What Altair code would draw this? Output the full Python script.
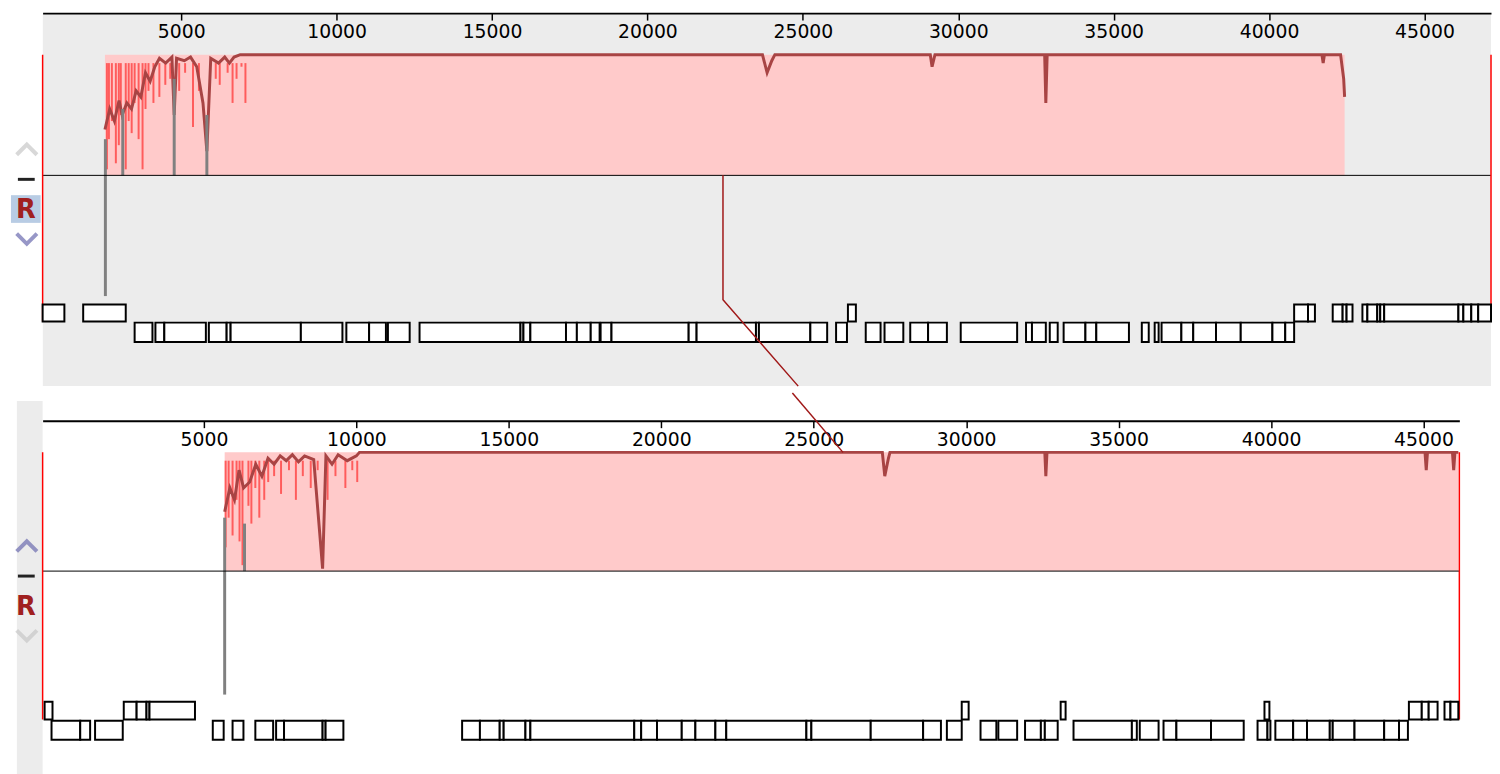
import altair as alt
import pandas as pd

# ---- data (bp positions) ----
ticks = [5000, 10000, 15000, 20000, 25000, 30000, 35000, 40000, 45000]

top_domain = [541, 47140]
bot_domain = [-292, 46176]

top_block = [2546, 42430]
bot_block = [5679, 46143]

top_prof_x = [2546, 2700, 2850, 3000, 3100, 3250, 3400, 3550, 3700, 3850, 4000, 4150, 4300, 4500,
              4700, 4774, 4850, 5100, 5300, 5500, 5700, 5825, 5950, 6200, 6400, 6550, 6700, 6900,
              23700, 23850, 24000, 24100, 29100, 29157, 29250, 32780, 32817, 32860, 41700, 41740,
              41780, 42300, 42400, 42430]
top_prof_y = [0.38, 0.55, 0.45, 0.62, 0.5, 0.6, 0.55, 0.7, 0.65, 0.85, 0.78, 0.9, 0.97, 0.93,
              0.98, 0.5, 0.97, 0.95, 0.98, 0.9, 0.6, 0.2, 0.97, 0.93, 0.98, 0.93, 0.98, 1.0,
              1.0, 0.85, 0.95, 1.0, 1.0, 0.9, 1.0, 1.0, 0.6, 1.0, 1.0, 0.93,
              1.0, 1.0, 0.8, 0.65]

bot_prof_x = [5679, 5850, 6000, 6150, 6300, 6500, 6700, 6900, 7100, 7300, 7500, 7700, 7900, 8100,
              8300, 8600, 8891, 9000, 9200, 9400, 9700, 10000, 10100, 27250, 27330, 27450, 27500,
              32580, 32613, 32650, 45050, 45090, 45130, 45950, 45990, 46030, 46143]
bot_prof_y = [0.5, 0.7, 0.6, 0.85, 0.7, 0.75, 0.9, 0.8, 0.95, 0.9, 0.97, 0.93, 0.98, 0.92,
              0.97, 0.94, 0.02, 0.97, 0.9, 0.98, 0.93, 0.97, 1.0, 1.0, 0.8, 0.95, 1.0,
              1.0, 0.8, 1.0, 1.0, 0.85, 1.0, 1.0, 0.85, 1.0, 1.0]

top_spike_x = [2610, 2674, 2769, 2897, 2992, 3056, 3215, 3310, 3406, 3501, 3629, 3756, 3851, 3947,
               4106, 4297, 4488, 4647, 4934, 5125, 5379, 5570, 6111, 6239, 6493, 6652, 6780, 6939, 7066]
top_spike_y = [0.05, 0.3, 0.45, 0.1, 0.25, 0.5, 0.05, 0.45, 0.35, 0.6, 0.3, 0.05, 0.55, 0.7,
               0.6, 0.65, 0.75, 0.8, 0.7, 0.85, 0.4, 0.7, 0.8, 0.75, 0.85, 0.6, 0.8, 0.9, 0.6]
bot_spike_x = [5711, 5809, 5938, 6068, 6166, 6263, 6458, 6555, 6685, 6815, 6977, 7107, 7301, 7528,
               7788, 8015, 8242, 8502, 8729, 9054, 9313, 9638, 9865, 10027]
bot_spike_y = [0.2, 0.45, 0.3, 0.6, 0.25, 0.05, 0.55, 0.4, 0.7, 0.45, 0.6, 0.75, 0.8, 0.65,
               0.85, 0.6, 0.8, 0.7, 0.85, 0.6, 0.8, 0.7, 0.85, 0.75]

top_gray = [(2560, 0.3, -1.0), (3119, 0.55, 0.0), (4774, 0.8, 0.0), (5825, 0.5, 0.0)]
bot_gray = [(5679, 0.45, -1.04), (6330, 0.4, 0.0)]

# gene chains: consecutive boundaries form adjacent boxes
top_row1 = [[541, 1241], [1846, 3215], [26450, 26706], [40806, 41252, 41475],
            [42047, 42366, 42493, 42684],
            [43003, 43162, 43480, 43576, 43703, 46091, 46250, 46505, 46728, 47140]]
top_row2 = [[3501, 4074], [4170, 4456, 5793], [5889, 6461, 6589, 8849, 10186], [10313, 11045, 11586],
            [11650, 12350], [12668, 15915, 16010, 16233, 17379, 17729, 18175, 18461],
            [18493, 18843, 21326, 21581, 23491, 23586, 25241, 25782], [26069, 26419],
            [27023, 27500], [27628, 28232], [28455, 29029, 29634], [30079, 31894],
            [32180, 32371, 32817], [32944, 33199], [33390, 34091, 34441, 35491], [35905, 36128],
            [36319, 36446], [36541, 37178, 37560, 38292, 39088, 40107, 40520, 40806]]
bot_row1 = [[-227, 32], [2369, 2791, 3115, 3213, 4705], [29854, 30081], [33099, 33261],
            [39784, 39946], [44521, 44943, 45170, 45462], [45689, 45884, 46143]]
bot_row2 = [[0, 941, 1266], [1428, 2336], [5289, 5646], [5938, 6295], [6685, 7269],
            [7366, 7626, 8891, 8989, 9573],
            [13467, 14051, 14700, 14830, 15544, 15706, 19113, 19340, 19859, 20671, 21118, 21774,
             22131, 24759, 24922, 26869, 28588, 29172],
            [29367, 29854], [30471, 30990], [31055, 31672], [31931, 32450, 32580, 33002],
            [33521, 35435, 35597], [35694, 36311], [36473, 36895, 38030, 39103],
            [39557, 39882, 39979],
            [40141, 40725, 41179, 41926, 42023, 42737, 43710, 44197, 44489]]

top_link_x = [22430, 22430, 24850]
top_link_y = [0.0, -1.03, -1.746]
bot_link_x = [24300, 25960]
bot_link_y = [1.5, 1.0]

PINK = "#ffcaca"
BRIGHT = "#ff5c5c"
DARK = "#a84444"
GRAY = "#808080"
PURPLE = "#6c6cb0"
LIGHT = "#c8c8c8"


def boxes(chains, y0, y1):
    rows = []
    for ch in chains:
        for a, b in zip(ch[:-1], ch[1:]):
            rows.append({"s": a, "e": b, "y0": y0, "y1": y1})
    return pd.DataFrame(rows)


def panel(domain, ydom, block, px, py, sx, sy, gray, row1, row2, r1y, r2y, lx, ly,
          width, height, axis_off, fill, strip_fill, is_ref, r_mid):
    xs = alt.Scale(domain=domain, nice=False, zero=False)
    ys = alt.Scale(domain=ydom, nice=False, zero=False)
    ax = alt.Axis(
        orient="bottom", offset=axis_off, values=ticks, title=None, format="d",
        labelFontSize=19, labelFont="DejaVu Sans", labelColor="black",
        tickColor="black", domainColor="black", tickSize=7, domainWidth=2, tickWidth=1.5,
        labelPadding=3, grid=False)
    X = lambda f: alt.X(f, scale=xs, axis=ax)
    Y = lambda f: alt.Y(f, scale=ys, axis=None)

    blk = alt.Chart(pd.DataFrame({"s": [block[0]], "e": [block[1]], "y0": [0], "y1": [1]})).mark_rect(
        color=PINK).encode(x=X("s:Q"), x2="e:Q", y=Y("y0:Q"), y2="y1:Q")

    spikes = alt.Chart(pd.DataFrame({"x": sx, "y": sy, "y2": [0.93] * len(sx)})).mark_rule(
        color=BRIGHT, strokeWidth=2).encode(x=X("x:Q"), y=Y("y:Q"), y2="y2:Q")

    prof = alt.Chart(pd.DataFrame({"x": px, "y": py})).mark_line(
        color=DARK, strokeWidth=3).encode(x=X("x:Q"), y=Y("y:Q"))

    g = pd.DataFrame(gray, columns=["x", "y", "y2"])
    grays = alt.Chart(g).mark_rule(color=GRAY, strokeWidth=3).encode(
        x=X("x:Q"), y=Y("y:Q"), y2="y2:Q")

    center = alt.Chart(pd.DataFrame({"x": [domain[0]], "x2": [domain[1]], "y": [0]})).mark_rule(
        color="black", strokeWidth=1).encode(x=X("x:Q"), x2="x2:Q", y=Y("y:Q"))

    edges = alt.Chart(pd.DataFrame({"x": domain, "y": [1, 1], "y2": [r1y[1], r1y[1]]})).mark_rule(
        color="red", strokeWidth=1.5).encode(x=X("x:Q"), y=Y("y:Q"), y2="y2:Q")

    gb = pd.concat([boxes(row1, *r1y), boxes(row2, *r2y)])
    genes = alt.Chart(gb).mark_rect(fill="white", stroke="black", strokeWidth=2).encode(
        x=X("s:Q"), x2="e:Q", y=Y("y0:Q"), y2="y1:Q")

    link = alt.Chart(pd.DataFrame({"x": lx, "y": ly, "o": list(range(len(lx)))})).mark_line(
        color="#a01818", strokeWidth=1.5).encode(x=X("x:Q"), y=Y("y:Q"), order="o:O")

    # sequence panel controls in the left margin
    ctl = pd.DataFrame({"a": [0]})
    strip = alt.Chart(ctl).mark_rect(color=strip_fill).encode(
        x=alt.value(-26), x2=alt.value(0), y=alt.value(0), y2=alt.value(height))
    up_c, down_c = (LIGHT, PURPLE) if is_ref else (PURPLE, LIGHT)
    up = alt.Chart(ctl).mark_point(shape="M-1,0.5L0,-0.5L1,0.5", filled=False, strokeWidth=4,
                                   size=420, color=up_c).encode(
        x=alt.value(-16), y=alt.value(r_mid - 60))
    dash = alt.Chart(ctl).mark_rule(color="#222222", strokeWidth=3).encode(
        x=alt.value(-25), x2=alt.value(-8), y=alt.value(r_mid - 30))
    layers = [strip, blk, spikes, prof, grays, center, edges, genes, link, up, dash]
    if is_ref:
        layers.append(alt.Chart(ctl).mark_rect(color="#b8cce4").encode(
            x=alt.value(-32), x2=alt.value(-2), y=alt.value(r_mid - 14), y2=alt.value(r_mid + 14)))
    rtxt = alt.Chart(ctl).mark_text(text="R", fontSize=26, fontWeight="bold", color="#a02020",
                                    font="DejaVu Sans").encode(x=alt.value(-17), y=alt.value(r_mid + 1))
    down = alt.Chart(ctl).mark_point(shape="M-1,-0.5L0,0.5L1,-0.5", filled=False, strokeWidth=4,
                                     size=420, color=down_c).encode(
        x=alt.value(-16), y=alt.value(r_mid + 30))
    layers += [rtxt, down]

    return alt.layer(*layers).properties(
        width=width, height=height, view=alt.ViewBackground(fill=fill, stroke=None))


top = panel(top_domain, [-1.746, 1.344], top_block, top_prof_x, top_prof_y, top_spike_x, top_spike_y,
            top_gray, top_row1, top_row2, (-1.07, -1.21), (-1.22, -1.38), top_link_x, top_link_y,
            1464, 377, -377, "#ececec", "white", True, 198)
bot = panel(bot_domain, [-1.775, 1.433], bot_block, bot_prof_x, bot_prof_y, bot_spike_x, bot_spike_y,
            bot_gray, bot_row1, bot_row2, (-1.10, -1.25), (-1.26, -1.42), bot_link_x, bot_link_y,
            1432, 385, -365, "white", "#ececec", False, 207)

chart = alt.vconcat(top, bot, spacing=0).configure_view(stroke=None).properties(padding=0)
chart.save("out.html", embed_options={"renderer": "svg", "actions": False})
